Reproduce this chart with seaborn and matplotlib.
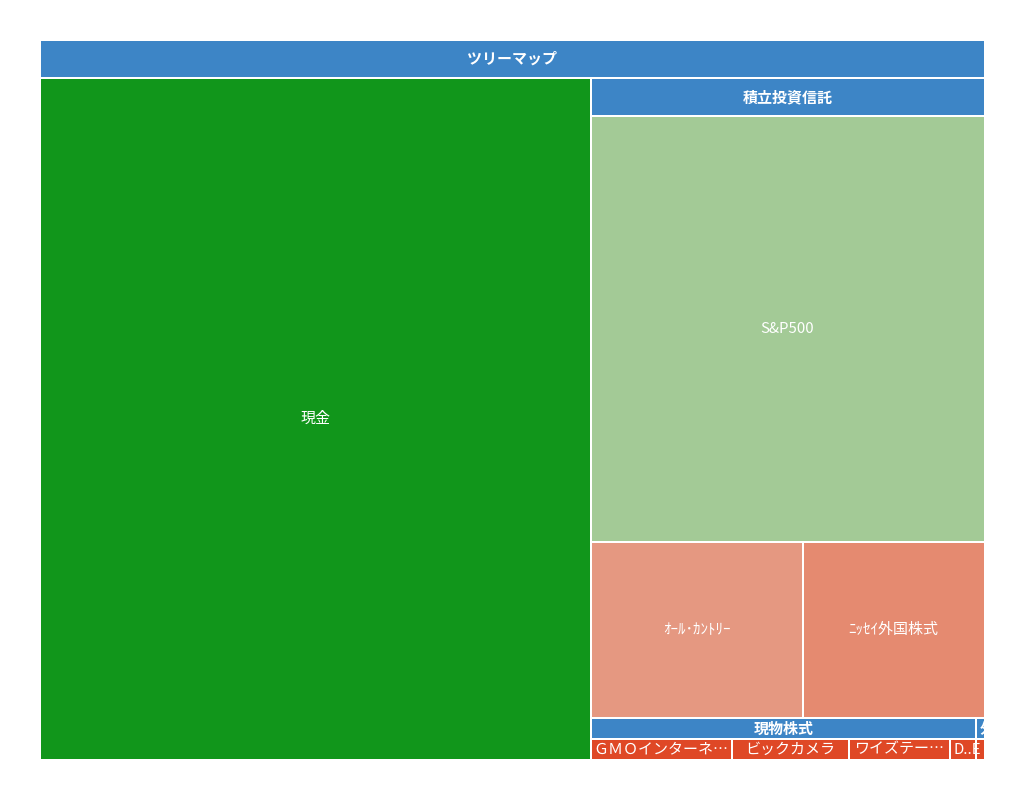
import matplotlib
matplotlib.use("Agg")
import matplotlib.pyplot as plt
from matplotlib.patches import Rectangle
import seaborn as sns

# Tree data (values are relative sizes)
ROOT_TITLE = "ツリーマップ"
cash_name = "現金"
cash_value = 3751

fund_group = "積立投資信託"
fund_names = ["S&P500", "ｵｰﾙ･ｶﾝﾄﾘｰ", "ﾆｯｾｲ外国株式"]
fund_values = [1857, 397, 370]

stock_group = "現物株式"
stock_names = ["ＧＭＯインターネ…", "ビックカメラ", "ワイズテー…", "D..E"]
stock_values = [59, 49, 42, 11]

foreign_group = "外国株式"
foreign_names = [""]
foreign_values = [10.5]

# Colours
HEADER_COLOR = "#3d85c6"
cash_color = "#11961b"
fund_colors = ["#a3ca96", "#e59881", "#e58a70"]
stock_colors = ["#df4826", "#df4826", "#df4826", "#df4826"]
foreign_colors = ["#df4826"]

HEADER_H = 38    # header height of a group (px-like units)
GAP = 2          # white gap between cells
VISIBLE_W = 944  # the chart is cut off on the right
TREE_W = 961
TREE_H = 720

tree = (ROOT_TITLE, [
    (cash_name, cash_value, cash_color),
    (fund_group, [(n, v, c) for n, v, c in zip(fund_names, fund_values, fund_colors)]),
    (stock_group, [(n, v, c) for n, v, c in zip(stock_names, stock_values, stock_colors)]),
    (foreign_group, [(n, v, c) for n, v, c in zip(foreign_names, foreign_values, foreign_colors)]),
])


def total(node):
    if isinstance(node[1], list):
        return sum(total(c) for c in node[1])
    return node[1]


def worst(row, side):
    s = sum(row)
    t = s / side
    return max(max(t * t / v, v / (t * t)) for v in row)


def squarify(values, x, y, w, h):
    # squarified layout, values already scaled to the area w*h
    order = sorted(range(len(values)), key=lambda i: -values[i])
    rects = [None] * len(values)
    k = 0
    while k < len(order):
        side = min(w, h)
        row = [order[k]]
        k += 1
        while k < len(order):
            cur = [values[i] for i in row]
            if worst(cur + [values[order[k]]], side) <= worst(cur, side):
                row.append(order[k])
                k += 1
            else:
                break
        s = sum(values[i] for i in row)
        t = s / side
        if w >= h:
            yy = y
            for i in row:
                hh = values[i] / t
                rects[i] = (x, yy, t, hh)
                yy += hh
            x += t
            w -= t
        else:
            xx = x
            for i in row:
                ww = values[i] / t
                rects[i] = (xx, y, ww, t)
                xx += ww
            y += t
            h -= t
    return rects


sns.set_theme(style="white")
plt.rcParams["font.family"] = ["Noto Sans CJK JP", "DejaVu Sans"]

fig = plt.figure(figsize=(10.24, 8), dpi=100)
ax = fig.add_axes([40 / 1024, 40 / 800, VISIBLE_W / 1024, TREE_H / 800])
ax.set_xlim(0, VISIBLE_W)
ax.set_ylim(TREE_H, 0)
ax.set_axis_off()

labels = []


def add_cell(name, x, y, w, h, color, bold, size):
    patch = Rectangle((x + GAP / 2, y + GAP / 2), w - GAP, h - GAP,
                      facecolor=color, edgecolor="none")
    ax.add_patch(patch)
    if not name:
        return
    x0 = max(x, 0)
    x1 = min(x + w, VISIBLE_W)
    txt = ax.text((x0 + x1) / 2, y + h / 2, name, ha="center", va="center",
                  color="white", fontsize=size,
                  fontweight="bold" if bold else "normal")
    txt.set_clip_path(patch)
    labels.append((txt, patch, x))


def draw_node(node, x, y, w, h):
    if isinstance(node[1], list):
        hh = min(HEADER_H, h * 0.5)
        add_cell(node[0], x, y, w, hh, HEADER_COLOR, True, 10.8)
        vals = [total(c) for c in node[1]]
        scale = w * (h - hh) / sum(vals)
        rects = squarify([v * scale for v in vals], x, y + hh, w, h - hh)
        for child, r in zip(node[1], rects):
            draw_node(child, *r)
    else:
        add_cell(node[0], x, y, w, h, node[2], False, 10.8)


draw_node(tree, 0, 0, TREE_W, TREE_H)

# labels wider than their cell are left aligned (and clipped)
fig.canvas.draw()
renderer = fig.canvas.get_renderer()
for txt, patch, x in labels:
    tb = txt.get_window_extent(renderer)
    pb = patch.get_window_extent(renderer)
    if tb.width > pb.width - 4:
        txt.set_ha("left")
        txt.set_x(x + GAP + 2)

fig.savefig("out.png", dpi=100)
